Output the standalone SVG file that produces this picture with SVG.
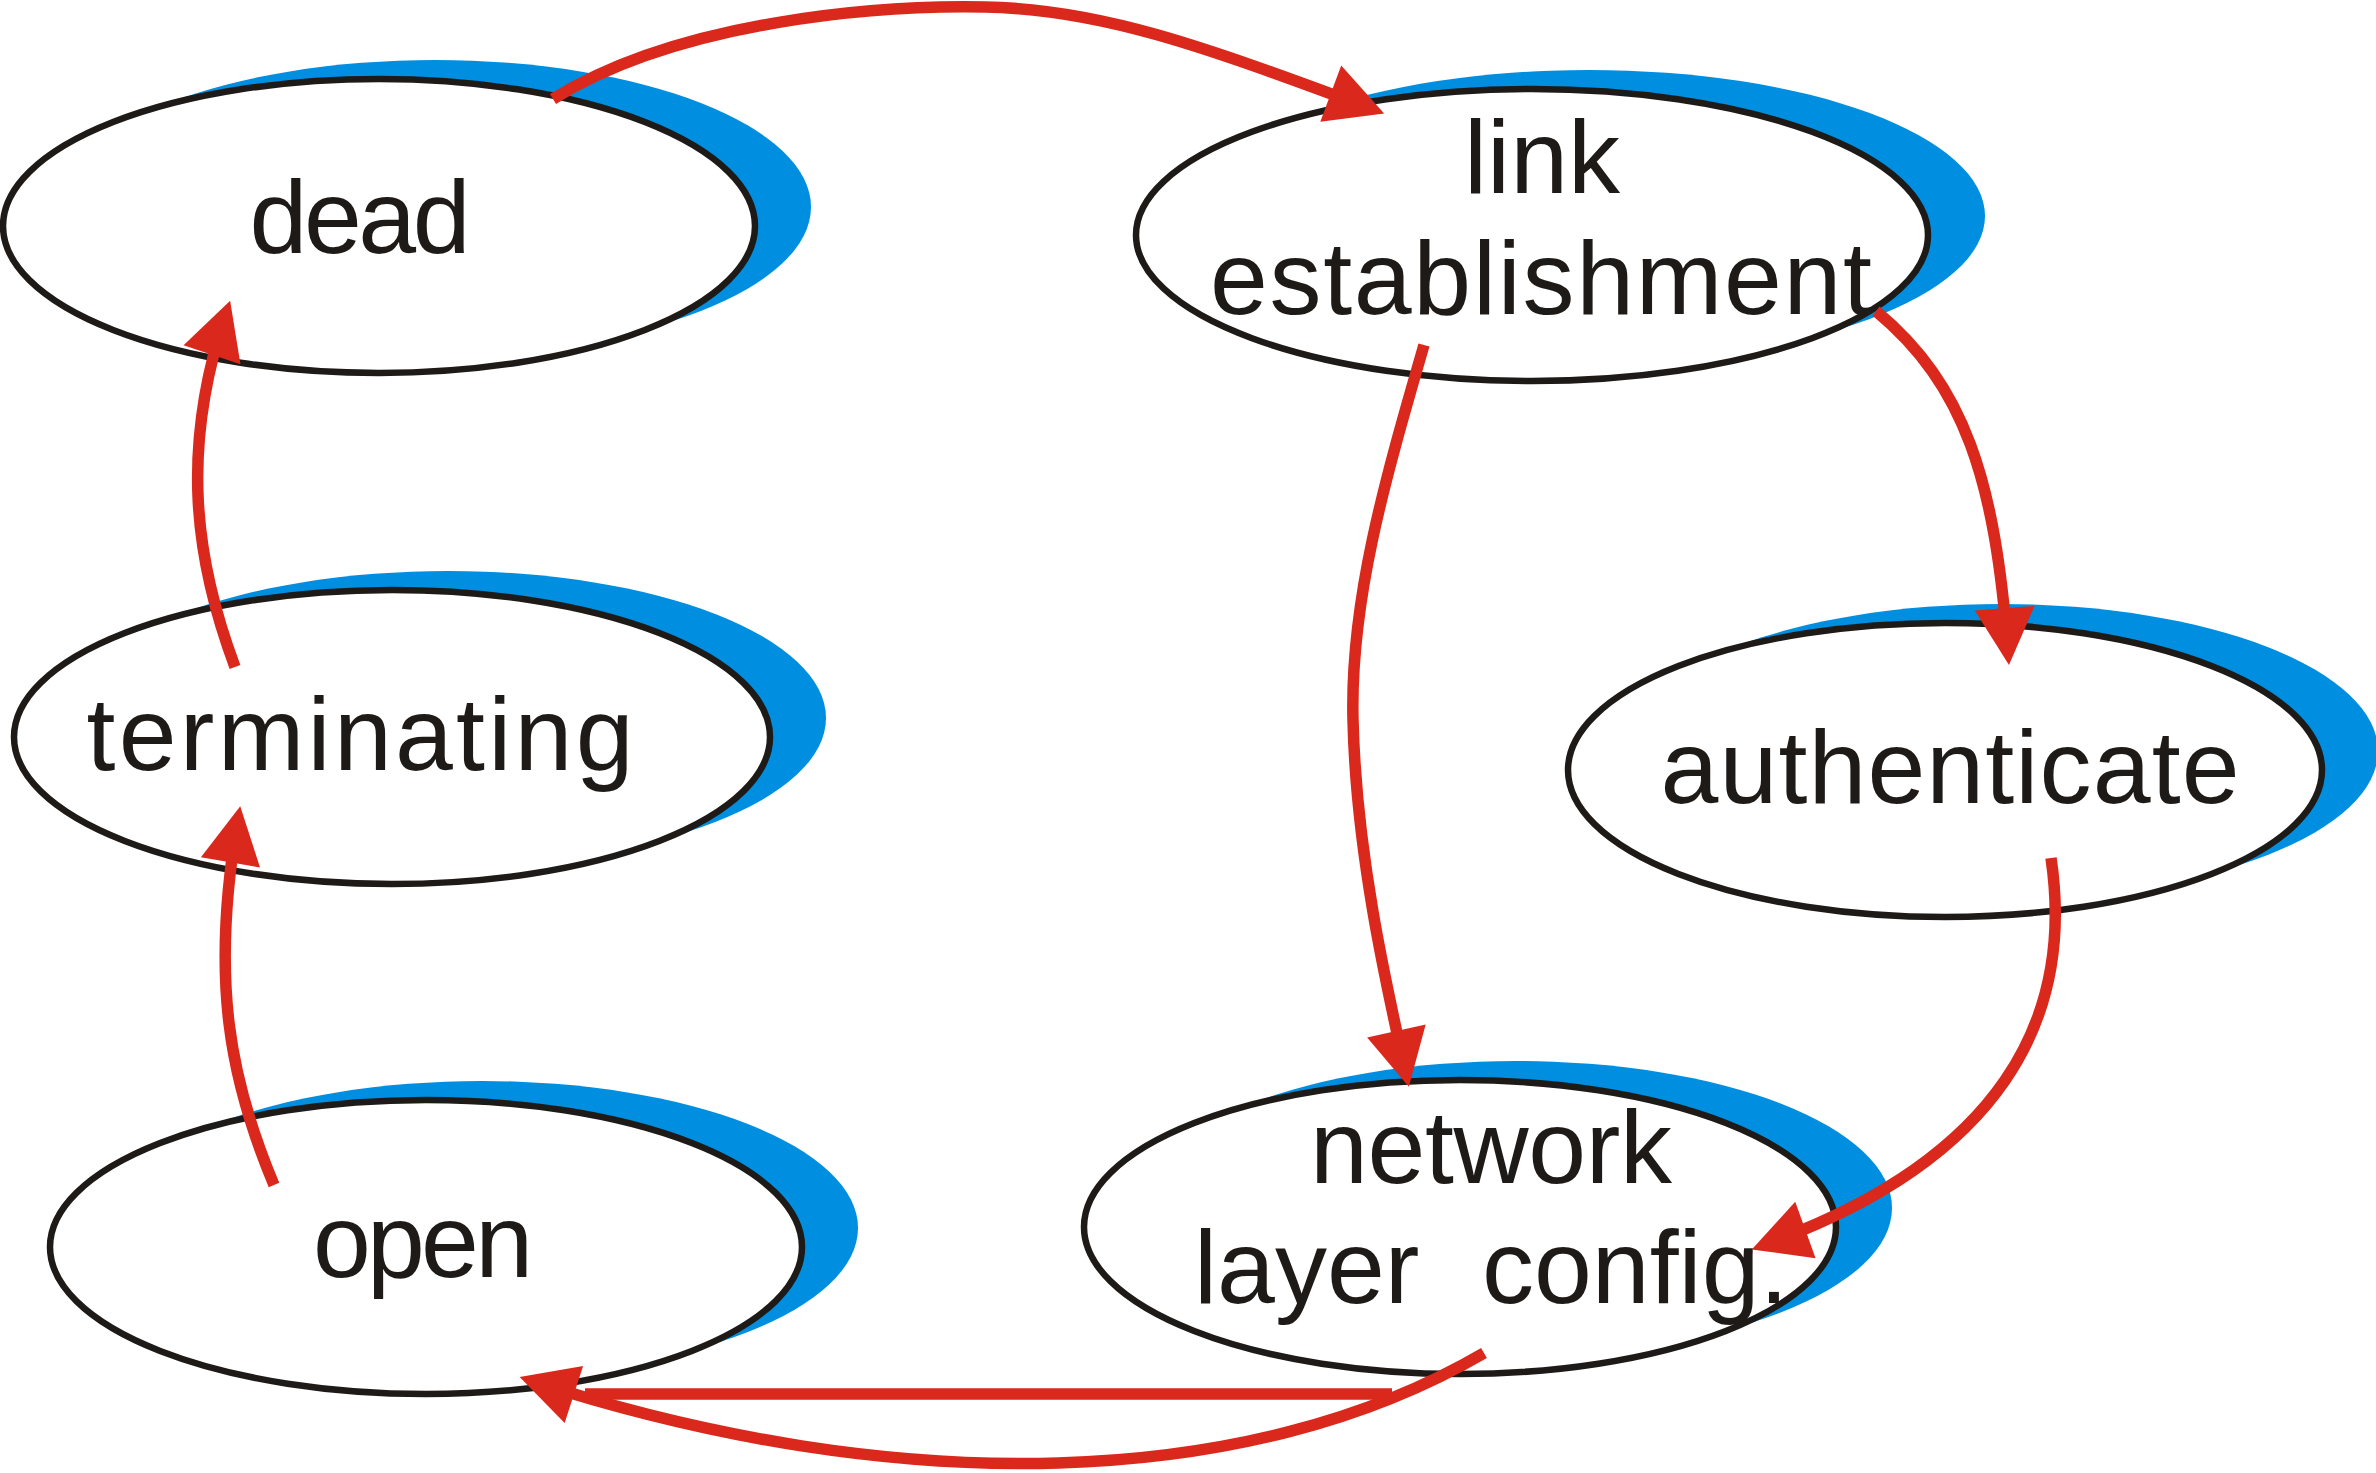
<svg xmlns="http://www.w3.org/2000/svg" width="2376" height="1473" viewBox="0 0 2376 1473">
<style>
.shadow{fill:#008FE0;stroke:none}
.node{fill:#FFFFFF;stroke:#1E1A17;stroke-width:6.5}
.label{font-family:"Liberation Sans",Arial,sans-serif;font-size:104px;fill:#1E1A17;text-anchor:middle}
.edge{fill:none;stroke:#DA291C;stroke-width:11.5;stroke-linecap:butt}
</style>
<defs>
<marker id="arrow" markerUnits="userSpaceOnUse" markerWidth="60" markerHeight="62" refX="44" refY="30" orient="auto" overflow="visible">
<path d="M0,0 L57,30 L0,60 Z" fill="#DA291C"/>
</marker>
</defs>
<rect width="2376" height="1473" fill="#FFFFFF"/>
<g id="node-dead">
<ellipse class="shadow" cx="435" cy="207" rx="376" ry="147"/>
<ellipse class="node" cx="379" cy="226" rx="376" ry="147"/>
<text class="label" x="360" y="253" textLength="221" lengthAdjust="spacing">dead</text>
</g>
<g id="node-link">
<ellipse class="shadow" cx="1589" cy="216" rx="396" ry="146"/>
<ellipse class="node" cx="1532" cy="235" rx="396" ry="146"/>
<text class="label" x="1542" y="193">link</text>
<text class="label" x="1541" y="314" textLength="662" lengthAdjust="spacing">establishment</text>
</g>
<g id="node-terminating">
<ellipse class="shadow" cx="448" cy="718" rx="378" ry="147"/>
<ellipse class="node" cx="392" cy="737" rx="378" ry="147"/>
<text class="label" x="360" y="770" textLength="547" lengthAdjust="spacing">terminating</text>
</g>
<g id="node-authenticate">
<ellipse class="shadow" cx="2001" cy="751" rx="377" ry="147"/>
<ellipse class="node" cx="1945" cy="770" rx="377" ry="147"/>
<text class="label" x="1950" y="803" textLength="579" lengthAdjust="spacing">authenticate</text>
</g>
<g id="node-network">
<ellipse class="shadow" cx="1516" cy="1208" rx="376" ry="147"/>
<ellipse class="node" cx="1460" cy="1227" rx="376" ry="147"/>
<text class="label" x="1491" y="1183" textLength="362" lengthAdjust="spacing">network</text>
<text class="label" y="1303" style="text-anchor:start"><tspan x="1194">layer</tspan><tspan x="1482">config.</tspan></text>
</g>
<g id="node-open">
<ellipse class="shadow" cx="482" cy="1228" rx="376" ry="147"/>
<ellipse class="node" cx="426" cy="1247" rx="376" ry="147"/>
<text class="label" x="423" y="1277" textLength="220" lengthAdjust="spacing">open</text>
</g>
<g id="connectors">
<path class="edge" marker-end="url(#arrow)" d="M553,99 C680,20 880,5 985,7 C1100,9 1200,45 1372,109"/>
<path class="edge" marker-end="url(#arrow)" d="M1876,311 C1965,385 1995,480 2008,652"/>
<path class="edge" marker-end="url(#arrow)" d="M1424,345 C1385,480 1350,600 1353,720 C1356,850 1385,980 1406,1074"/>
<path class="edge" marker-end="url(#arrow)" d="M2051,858 C2075,1020 2000,1160 1764,1245"/>
<path class="edge" d="M1392,1394 L585,1394"/>
<path class="edge" marker-end="url(#arrow)" d="M1484,1353 C1250,1490 900,1500 532,1381"/>
<path class="edge" marker-end="url(#arrow)" d="M274,1185 C230,1080 210,980 238,819"/>
<path class="edge" marker-end="url(#arrow)" d="M235,667 C195,560 180,450 226,313"/>
</g>
</svg>
